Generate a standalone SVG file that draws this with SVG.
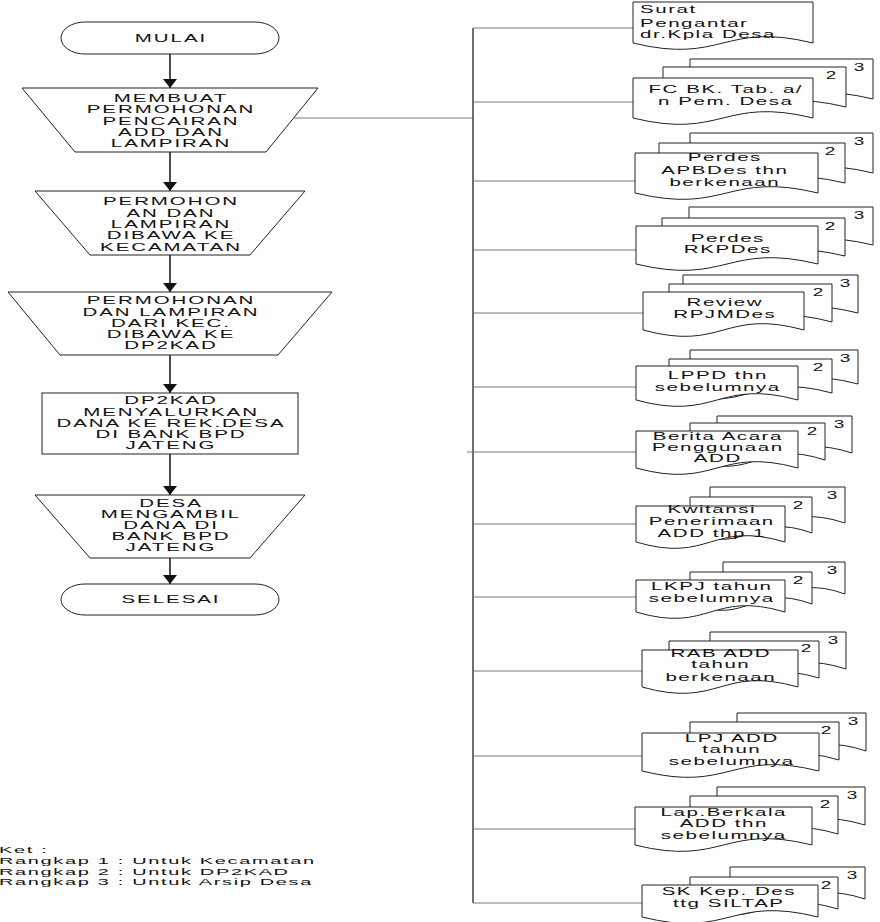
<svg xmlns="http://www.w3.org/2000/svg" width="880" height="922" viewBox="0 0 880 922">
<style>
.s{fill:#fff;stroke:#222;stroke-width:1}
.t{font-family:"Liberation Sans",Arial,sans-serif;font-size:10.5px;fill:#111;text-anchor:middle;letter-spacing:1px}
.r{font-family:"Liberation Sans",Arial,sans-serif;font-size:10.5px;fill:#111;text-anchor:middle;letter-spacing:0.8px}
.n{font-family:"Liberation Sans",Arial,sans-serif;font-size:10.5px;fill:#111;text-anchor:middle}
.k{font-family:"Liberation Sans",Arial,sans-serif;font-size:9.5px;fill:#111;letter-spacing:0.8px}
.a{stroke:#111;stroke-width:1.5;fill:none}
.b{stroke:#777;stroke-width:1;fill:none}
.v{stroke:#333;stroke-width:1.4;fill:none}
</style>
<defs>
<marker id="ah" markerUnits="userSpaceOnUse" markerWidth="9" markerHeight="14" viewBox="0 0 9 14" refX="9" refY="7" orient="auto">
<path d="M0,0L9,7L0,14Z" fill="#111"/>
</marker>
</defs>
<rect width="880" height="922" fill="#fff"/>
<g id="connectors">
<line class="a" x1="170" y1="54" x2="170" y2="88" marker-end="url(#ah)"/>
<line class="a" x1="170" y1="152" x2="170" y2="191" marker-end="url(#ah)"/>
<line class="a" x1="170" y1="255" x2="170" y2="292" marker-end="url(#ah)"/>
<line class="a" x1="170" y1="355" x2="170" y2="393" marker-end="url(#ah)"/>
<line class="a" x1="170" y1="454" x2="170" y2="495" marker-end="url(#ah)"/>
<line class="a" x1="170" y1="558" x2="170" y2="584" marker-end="url(#ah)"/>
<line class="b" x1="294" y1="118" x2="473" y2="118"/>
<line class="v" x1="473" y1="28" x2="473" y2="903"/>
<line class="b" x1="473" y1="28" x2="633" y2="28"/>
<line class="b" x1="473" y1="102" x2="633" y2="102"/>
<line class="b" x1="473" y1="181" x2="635" y2="181"/>
<line class="b" x1="473" y1="250" x2="636" y2="250"/>
<line class="b" x1="473" y1="313" x2="643" y2="313"/>
<line class="b" x1="473" y1="387" x2="636" y2="387"/>
<line class="b" x1="467" y1="452" x2="636" y2="452"/>
<line class="b" x1="473" y1="524" x2="636" y2="524"/>
<line class="b" x1="473" y1="597" x2="636" y2="597"/>
<line class="b" x1="473" y1="671" x2="642" y2="671"/>
<line class="b" x1="473" y1="756" x2="642" y2="756"/>
<line class="b" x1="473" y1="829" x2="635" y2="829"/>
<line class="b" x1="473" y1="903" x2="642" y2="903"/>
</g>
<g id="mulai">
<rect class="s" x="61" y="22" width="218" height="32" rx="24" ry="16"/>
<text class="t" transform="translate(171 0) scale(1.95 1)" x="0" y="42">MULAI</text>
</g>
<g id="step1">
<polygon class="s" points="22,88 318,88 266,152 75,152"/>
<text class="t" transform="translate(171 0) scale(1.95 1)"><tspan x="0" y="102">MEMBUAT</tspan><tspan x="0" y="113.3">PERMOHONAN</tspan><tspan x="0" y="124.6">PENCAIRAN</tspan><tspan x="0" y="136">ADD DAN</tspan><tspan x="0" y="147.3">LAMPIRAN</tspan></text>
</g>
<g id="step2">
<polygon class="s" points="35,191 305,191 250,255 90,255"/>
<text class="t" transform="translate(171 0) scale(1.95 1)"><tspan x="0" y="205">PERMOHON</tspan><tspan x="0" y="216.7">AN DAN</tspan><tspan x="0" y="228">LAMPIRAN</tspan><tspan x="0" y="239.3">DIBAWA KE</tspan><tspan x="0" y="251">KECAMATAN</tspan></text>
</g>
<g id="step3">
<polygon class="s" points="8,292 332,292 278,355 60,355"/>
<text class="t" transform="translate(171 0) scale(1.95 1)"><tspan x="0" y="304">PERMOHONAN</tspan><tspan x="0" y="315.7">DAN LAMPIRAN</tspan><tspan x="0" y="326.8">DARI KEC.</tspan><tspan x="0" y="338">DIBAWA KE</tspan><tspan x="0" y="349.5">DP2KAD</tspan></text>
</g>
<g id="step4">
<rect class="s" x="42" y="393" width="256" height="61"/>
<text class="t" transform="translate(171 0) scale(1.95 1)"><tspan x="0" y="404">DP2KAD</tspan><tspan x="0" y="415.7">MENYALURKAN</tspan><tspan x="0" y="427">DANA KE REK.DESA</tspan><tspan x="0" y="438.3">DI BANK BPD</tspan><tspan x="0" y="449.5">JATENG</tspan></text>
</g>
<g id="step5">
<polygon class="s" points="35,495 305,495 250,558 90,558"/>
<text class="t" transform="translate(171 0) scale(1.95 1)"><tspan x="0" y="507">DESA</tspan><tspan x="0" y="518">MENGAMBIL</tspan><tspan x="0" y="529">DANA DI</tspan><tspan x="0" y="540">BANK BPD</tspan><tspan x="0" y="551">JATENG</tspan></text>
</g>
<g id="selesai">
<rect class="s" x="61" y="584" width="218" height="31" rx="24" ry="15.5"/>
<text class="t" transform="translate(171 0) scale(1.95 1)" x="0" y="603.5">SELESAI</text>
</g>
<g id="doc1">
<path class="s" d="M633,2H813V43C723,21 723,65 633,43Z"/>
<text class="r" style="text-anchor:start" transform="translate(640 0) scale(1.95 1)"><tspan x="0" y="12.7">Surat</tspan><tspan x="0" y="26.7">Pengantar</tspan><tspan x="0" y="38">dr.Kpla Desa</tspan></text>
</g>
<g id="doc2">
<path class="s" d="M690,59H873V99C781.5,77 781.5,121 690,99Z"/>
<path class="s" d="M663,67H846V107C754.5,85 754.5,129 663,107Z"/>
<path class="s" d="M633,78H813V118C723,96 723,140 633,118Z"/>
<text class="n" transform="translate(859 0) scale(1.8 1)" x="0" y="71.5">3</text>
<text class="n" transform="translate(831 0) scale(1.8 1)" x="0" y="79.5">2</text>
<text class="r" transform="translate(725.8 0) scale(1.95 1)"><tspan x="0" y="93.5">FC BK. Tab. a/</tspan><tspan x="0" y="105.5">n Pem. Desa</tspan></text>
</g>
<g id="doc3">
<path class="s" d="M690,133H873V173C781.5,151 781.5,195 690,173Z"/>
<path class="s" d="M659,143H845V183C752,161 752,205 659,183Z"/>
<path class="s" d="M635,153H818V193C726.5,171 726.5,215 635,193Z"/>
<text class="n" transform="translate(859 0) scale(1.8 1)" x="0" y="145.5">3</text>
<text class="n" transform="translate(830 0) scale(1.8 1)" x="0" y="155.5">2</text>
<text class="r" transform="translate(724.8 0) scale(1.95 1)"><tspan x="0" y="161">Perdes</tspan><tspan x="0" y="174">APBDes thn</tspan><tspan x="0" y="186">berkenaan</tspan></text>
</g>
<g id="doc4">
<path class="s" d="M689,207H873V245C781,223 781,267 689,245Z"/>
<path class="s" d="M662,218H845V256C753.5,234 753.5,278 662,256Z"/>
<path class="s" d="M636,226H818V264C727,242 727,286 636,264Z"/>
<text class="n" transform="translate(859 0) scale(1.8 1)" x="0" y="219.5">3</text>
<text class="n" transform="translate(830 0) scale(1.8 1)" x="0" y="230.5">2</text>
<text class="r" transform="translate(727.8 0) scale(1.95 1)"><tspan x="0" y="242">Perdes</tspan><tspan x="0" y="253.5">RKPDes</tspan></text>
</g>
<g id="doc5">
<path class="s" d="M683,275H858V313C770.5,291 770.5,335 683,313Z"/>
<path class="s" d="M669,284H832V322C750.5,300 750.5,344 669,322Z"/>
<path class="s" d="M643,292H804V330C723.5,308 723.5,352 643,330Z"/>
<text class="n" transform="translate(845 0) scale(1.8 1)" x="0" y="287.5">3</text>
<text class="n" transform="translate(818 0) scale(1.8 1)" x="0" y="296.5">2</text>
<text class="r" transform="translate(724.8 0) scale(1.95 1)"><tspan x="0" y="306">Review</tspan><tspan x="0" y="318">RPJMDes</tspan></text>
</g>
<g id="doc6">
<path class="s" d="M690,350H858V384C774,362 774,406 690,384Z"/>
<path class="s" d="M669,359H832V393C750.5,371 750.5,415 669,393Z"/>
<path class="s" d="M636,366H798V400C717,378 717,422 636,400Z"/>
<text class="n" transform="translate(845 0) scale(1.8 1)" x="0" y="362.5">3</text>
<text class="n" transform="translate(818 0) scale(1.8 1)" x="0" y="371.5">2</text>
<text class="r" transform="translate(717.8 0) scale(1.95 1)"><tspan x="0" y="379">LPPD thn</tspan><tspan x="0" y="391">sebelumnya</tspan></text>
</g>
<g id="doc7">
<path class="s" d="M717,416H852V453C784.5,431 784.5,475 717,453Z"/>
<path class="s" d="M690,423H825V460C757.5,438 757.5,482 690,460Z"/>
<path class="s" d="M636,431H798V468C717,446 717,490 636,468Z"/>
<text class="n" transform="translate(839 0) scale(1.8 1)" x="0" y="428.5">3</text>
<text class="n" transform="translate(812 0) scale(1.8 1)" x="0" y="435.5">2</text>
<text class="r" transform="translate(717.8 0) scale(1.95 1)"><tspan x="0" y="440">Berita Acara</tspan><tspan x="0" y="451">Penggunaan</tspan><tspan x="0" y="462">ADD</tspan></text>
</g>
<g id="doc8">
<path class="s" d="M710,487H845V523C777.5,501 777.5,545 710,523Z"/>
<path class="s" d="M690,497H812V533C751,511 751,555 690,533Z"/>
<path class="s" d="M636,506H785V542C710.5,520 710.5,564 636,542Z"/>
<text class="n" transform="translate(832 0) scale(1.8 1)" x="0" y="499.5">3</text>
<text class="n" transform="translate(798 0) scale(1.8 1)" x="0" y="509.5">2</text>
<text class="r" transform="translate(711.8 0) scale(1.95 1)"><tspan x="0" y="513">Kwitansi</tspan><tspan x="0" y="525">Penerimaan</tspan><tspan x="0" y="537">ADD thp 1</tspan></text>
</g>
<g id="doc9">
<path class="s" d="M723,562H845V594C784,572 784,616 723,594Z"/>
<path class="s" d="M690,572H812V604C751,582 751,626 690,604Z"/>
<path class="s" d="M636,580H785V612C710.5,590 710.5,634 636,612Z"/>
<text class="n" transform="translate(832 0) scale(1.8 1)" x="0" y="574.5">3</text>
<text class="n" transform="translate(798 0) scale(1.8 1)" x="0" y="584.5">2</text>
<text class="r" transform="translate(711.8 0) scale(1.95 1)"><tspan x="0" y="590">LKPJ tahun</tspan><tspan x="0" y="602">sebelumnya</tspan></text>
</g>
<g id="doc10">
<path class="s" d="M710,632H846V669C778,647 778,691 710,669Z"/>
<path class="s" d="M669,641H819V678C744,656 744,700 669,678Z"/>
<path class="s" d="M642,650H798V687C720,665 720,709 642,687Z"/>
<text class="n" transform="translate(833 0) scale(1.8 1)" x="0" y="644">3</text>
<text class="n" transform="translate(806 0) scale(1.8 1)" x="0" y="652">2</text>
<text class="r" transform="translate(720.8 0) scale(1.95 1)"><tspan x="0" y="657">RAB ADD</tspan><tspan x="0" y="668.5">tahun</tspan><tspan x="0" y="681">berkenaan</tspan></text>
</g>
<g id="doc11">
<path class="s" d="M737,713H866V751C801.5,729 801.5,773 737,751Z"/>
<path class="s" d="M690,722H839V760C764.5,738 764.5,782 690,760Z"/>
<path class="s" d="M642,733H819V771C730.5,749 730.5,793 642,771Z"/>
<text class="n" transform="translate(853 0) scale(1.8 1)" x="0" y="725">3</text>
<text class="n" transform="translate(826 0) scale(1.8 1)" x="0" y="734.5">2</text>
<text class="r" transform="translate(731.8 0) scale(1.95 1)"><tspan x="0" y="742">LPJ ADD</tspan><tspan x="0" y="753.5">tahun</tspan><tspan x="0" y="765">sebelumnya</tspan></text>
</g>
<g id="doc12">
<path class="s" d="M717,787H865V825C791,803 791,847 717,825Z"/>
<path class="s" d="M690,796H838V834C764,812 764,856 690,834Z"/>
<path class="s" d="M635,807H812V845C723.5,823 723.5,867 635,845Z"/>
<text class="n" transform="translate(852 0) scale(1.8 1)" x="0" y="799.5">3</text>
<text class="n" transform="translate(825 0) scale(1.8 1)" x="0" y="808">2</text>
<text class="r" transform="translate(723.8 0) scale(1.95 1)"><tspan x="0" y="816">Lap.Berkala</tspan><tspan x="0" y="827.5">ADD thn</tspan><tspan x="0" y="839">sebelumnya</tspan></text>
</g>
<g id="doc13">
<path class="s" d="M730,867H865V899C797.5,877 797.5,921 730,899Z"/>
<path class="s" d="M690,877H838V909C764,887 764,931 690,909Z"/>
<path class="s" d="M642,885H818V917C730,895 730,939 642,917Z"/>
<text class="n" transform="translate(852 0) scale(1.8 1)" x="0" y="879.5">3</text>
<text class="n" transform="translate(826 0) scale(1.8 1)" x="0" y="889.5">2</text>
<text class="r" transform="translate(728.8 0) scale(1.95 1)"><tspan x="0" y="895">SK Kep. Des</tspan><tspan x="0" y="907">ttg SILTAP</tspan></text>
</g>
<g id="ket">
<text class="k" transform="translate(-1 0) scale(2.1 1)"><tspan x="0" y="853">Ket :</tspan><tspan x="0" y="864.5">Rangkap 1 : Untuk Kecamatan</tspan><tspan x="0" y="875">Rangkap 2 : Untuk DP2KAD</tspan><tspan x="0" y="885.5">Rangkap 3 : Untuk Arsip Desa</tspan></text>
</g>
</svg>
